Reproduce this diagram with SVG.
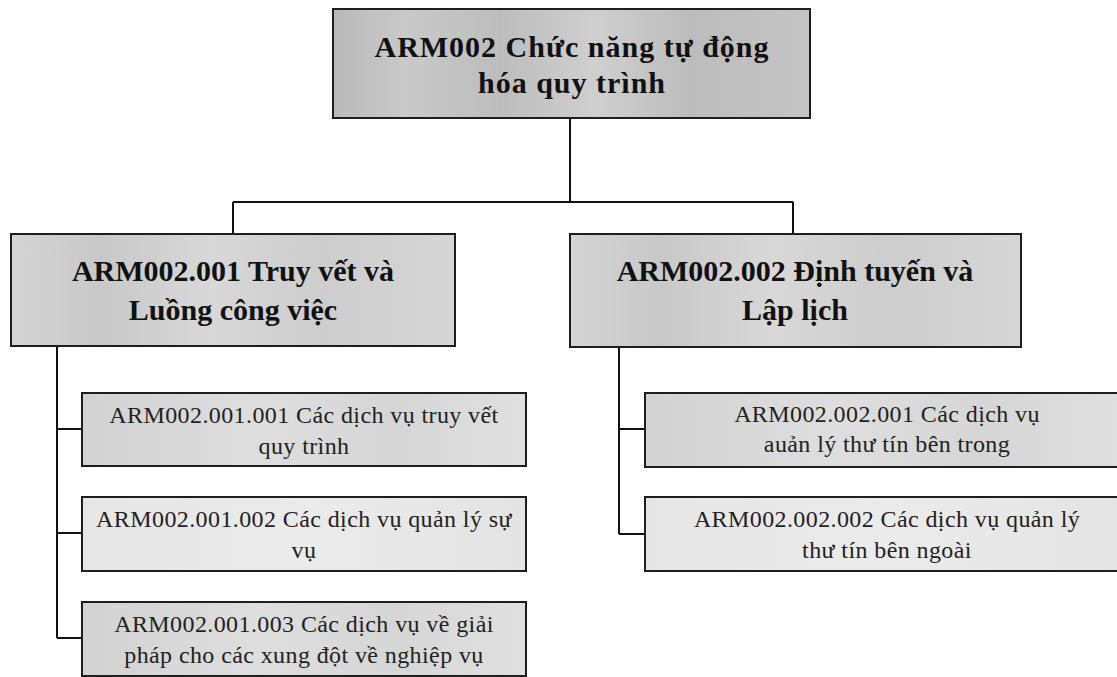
<svg xmlns="http://www.w3.org/2000/svg" width="1117" height="677" viewBox="0 0 1117 677">
  <defs>
    <linearGradient id="gTop" x1="0" y1="0" x2="1" y2="0">
      <stop offset="0" stop-color="#b9b9b9"/>
      <stop offset="0.15" stop-color="#c9c9c9"/>
      <stop offset="0.35" stop-color="#bdbdbd"/>
      <stop offset="0.55" stop-color="#cfcfcf"/>
      <stop offset="0.75" stop-color="#bcbcbc"/>
      <stop offset="1" stop-color="#c4c4c4"/>
    </linearGradient>
    <linearGradient id="gMid" x1="0" y1="0" x2="1" y2="0">
      <stop offset="0" stop-color="#d4d4d4"/>
      <stop offset="0.2" stop-color="#c8c8c8"/>
      <stop offset="0.45" stop-color="#d8d8d8"/>
      <stop offset="0.7" stop-color="#cdcdcd"/>
      <stop offset="1" stop-color="#d6d6d6"/>
    </linearGradient>
    <linearGradient id="gLeaf" x1="0" y1="0" x2="1" y2="0">
      <stop offset="0" stop-color="#d2d2d2"/>
      <stop offset="0.4" stop-color="#dedede"/>
      <stop offset="0.7" stop-color="#d6d6d6"/>
      <stop offset="1" stop-color="#e0e0e0"/>
    </linearGradient>
    <linearGradient id="gLight" x1="0" y1="0" x2="1" y2="0">
      <stop offset="0" stop-color="#e6e6e6"/>
      <stop offset="0.5" stop-color="#ebebeb"/>
      <stop offset="1" stop-color="#e4e4e4"/>
    </linearGradient>
  </defs>
  <style>
    .box { stroke: #1e1e1e; stroke-width: 2; }
    .conn { fill: none; stroke: #111; stroke-width: 2; }
    .t0 { font-family: "Liberation Serif", "Times New Roman", serif; font-weight: bold; font-size: 30px; fill: #111; text-anchor: middle; letter-spacing: 1px; }
    .t1 { font-family: "Liberation Serif", "Times New Roman", serif; font-weight: bold; font-size: 30px; fill: #111; text-anchor: middle; }
    .t3 { font-family: "Liberation Serif", "Times New Roman", serif; font-size: 24px; fill: #222; text-anchor: middle; letter-spacing: 0.4px; }
  </style>
  <rect width="1117" height="677" fill="#ffffff"/>

  <g id="connectors">
    <path class="conn" d="M570 118 V202 M233 202 H793 M233 202 V234 M793 202 V234"/>
    <path class="conn" d="M57 346 V638 M57 429 H82 M57 533 H82 M57 638 H82"/>
    <path class="conn" d="M619 347 V534 M619 429 H645 M619 534 H645"/>
  </g>

  <g id="root">
    <rect class="box" x="333" y="9" width="477" height="109" fill="url(#gTop)"/>
    <text class="t0" x="572" y="57">ARM002 Chức năng tự động</text>
    <text class="t0" x="572" y="93">hóa quy trình</text>
  </g>

  <g id="arm002-001">
    <rect class="box" x="11" y="234" width="444" height="112" fill="url(#gMid)"/>
    <text class="t1" x="233" y="281">ARM002.001 Truy vết và</text>
    <text class="t1" x="233" y="320">Luồng công việc</text>
  </g>

  <g id="arm002-002">
    <rect class="box" x="570" y="234" width="451" height="113" fill="url(#gMid)"/>
    <text class="t1" x="795" y="281">ARM002.002 Định tuyến và</text>
    <text class="t1" x="795" y="320">Lập lịch</text>
  </g>

  <g id="arm002-001-001">
    <rect class="box" x="82" y="393" width="444" height="73" fill="url(#gLeaf)"/>
    <text class="t3" x="304" y="423">ARM002.001.001 Các dịch vụ truy vết</text>
    <text class="t3" x="304" y="454">quy trình</text>
  </g>

  <g id="arm002-001-002">
    <rect class="box" x="82" y="497" width="444" height="74" fill="url(#gLight)"/>
    <text class="t3" x="304" y="527">ARM002.001.002 Các dịch vụ quản lý sự</text>
    <text class="t3" x="304" y="558">vụ</text>
  </g>

  <g id="arm002-001-003">
    <rect class="box" x="82" y="602" width="444" height="74" fill="url(#gLeaf)"/>
    <text class="t3" x="304" y="632">ARM002.001.003 Các dịch vụ về giải</text>
    <text class="t3" x="304" y="663">pháp cho các xung đột về nghiệp vụ</text>
  </g>

  <g id="arm002-002-001">
    <rect class="box" x="645" y="393" width="485" height="74" fill="url(#gLeaf)"/>
    <text class="t3" x="887" y="422">ARM002.002.001 Các dịch vụ</text>
    <text class="t3" x="887" y="452">auản lý thư tín bên trong</text>
  </g>

  <g id="arm002-002-002">
    <rect class="box" x="645" y="497" width="485" height="74" fill="url(#gLight)"/>
    <text class="t3" x="887" y="527">ARM002.002.002 Các dịch vụ quản lý</text>
    <text class="t3" x="887" y="558">thư tín bên ngoài</text>
  </g>
</svg>
